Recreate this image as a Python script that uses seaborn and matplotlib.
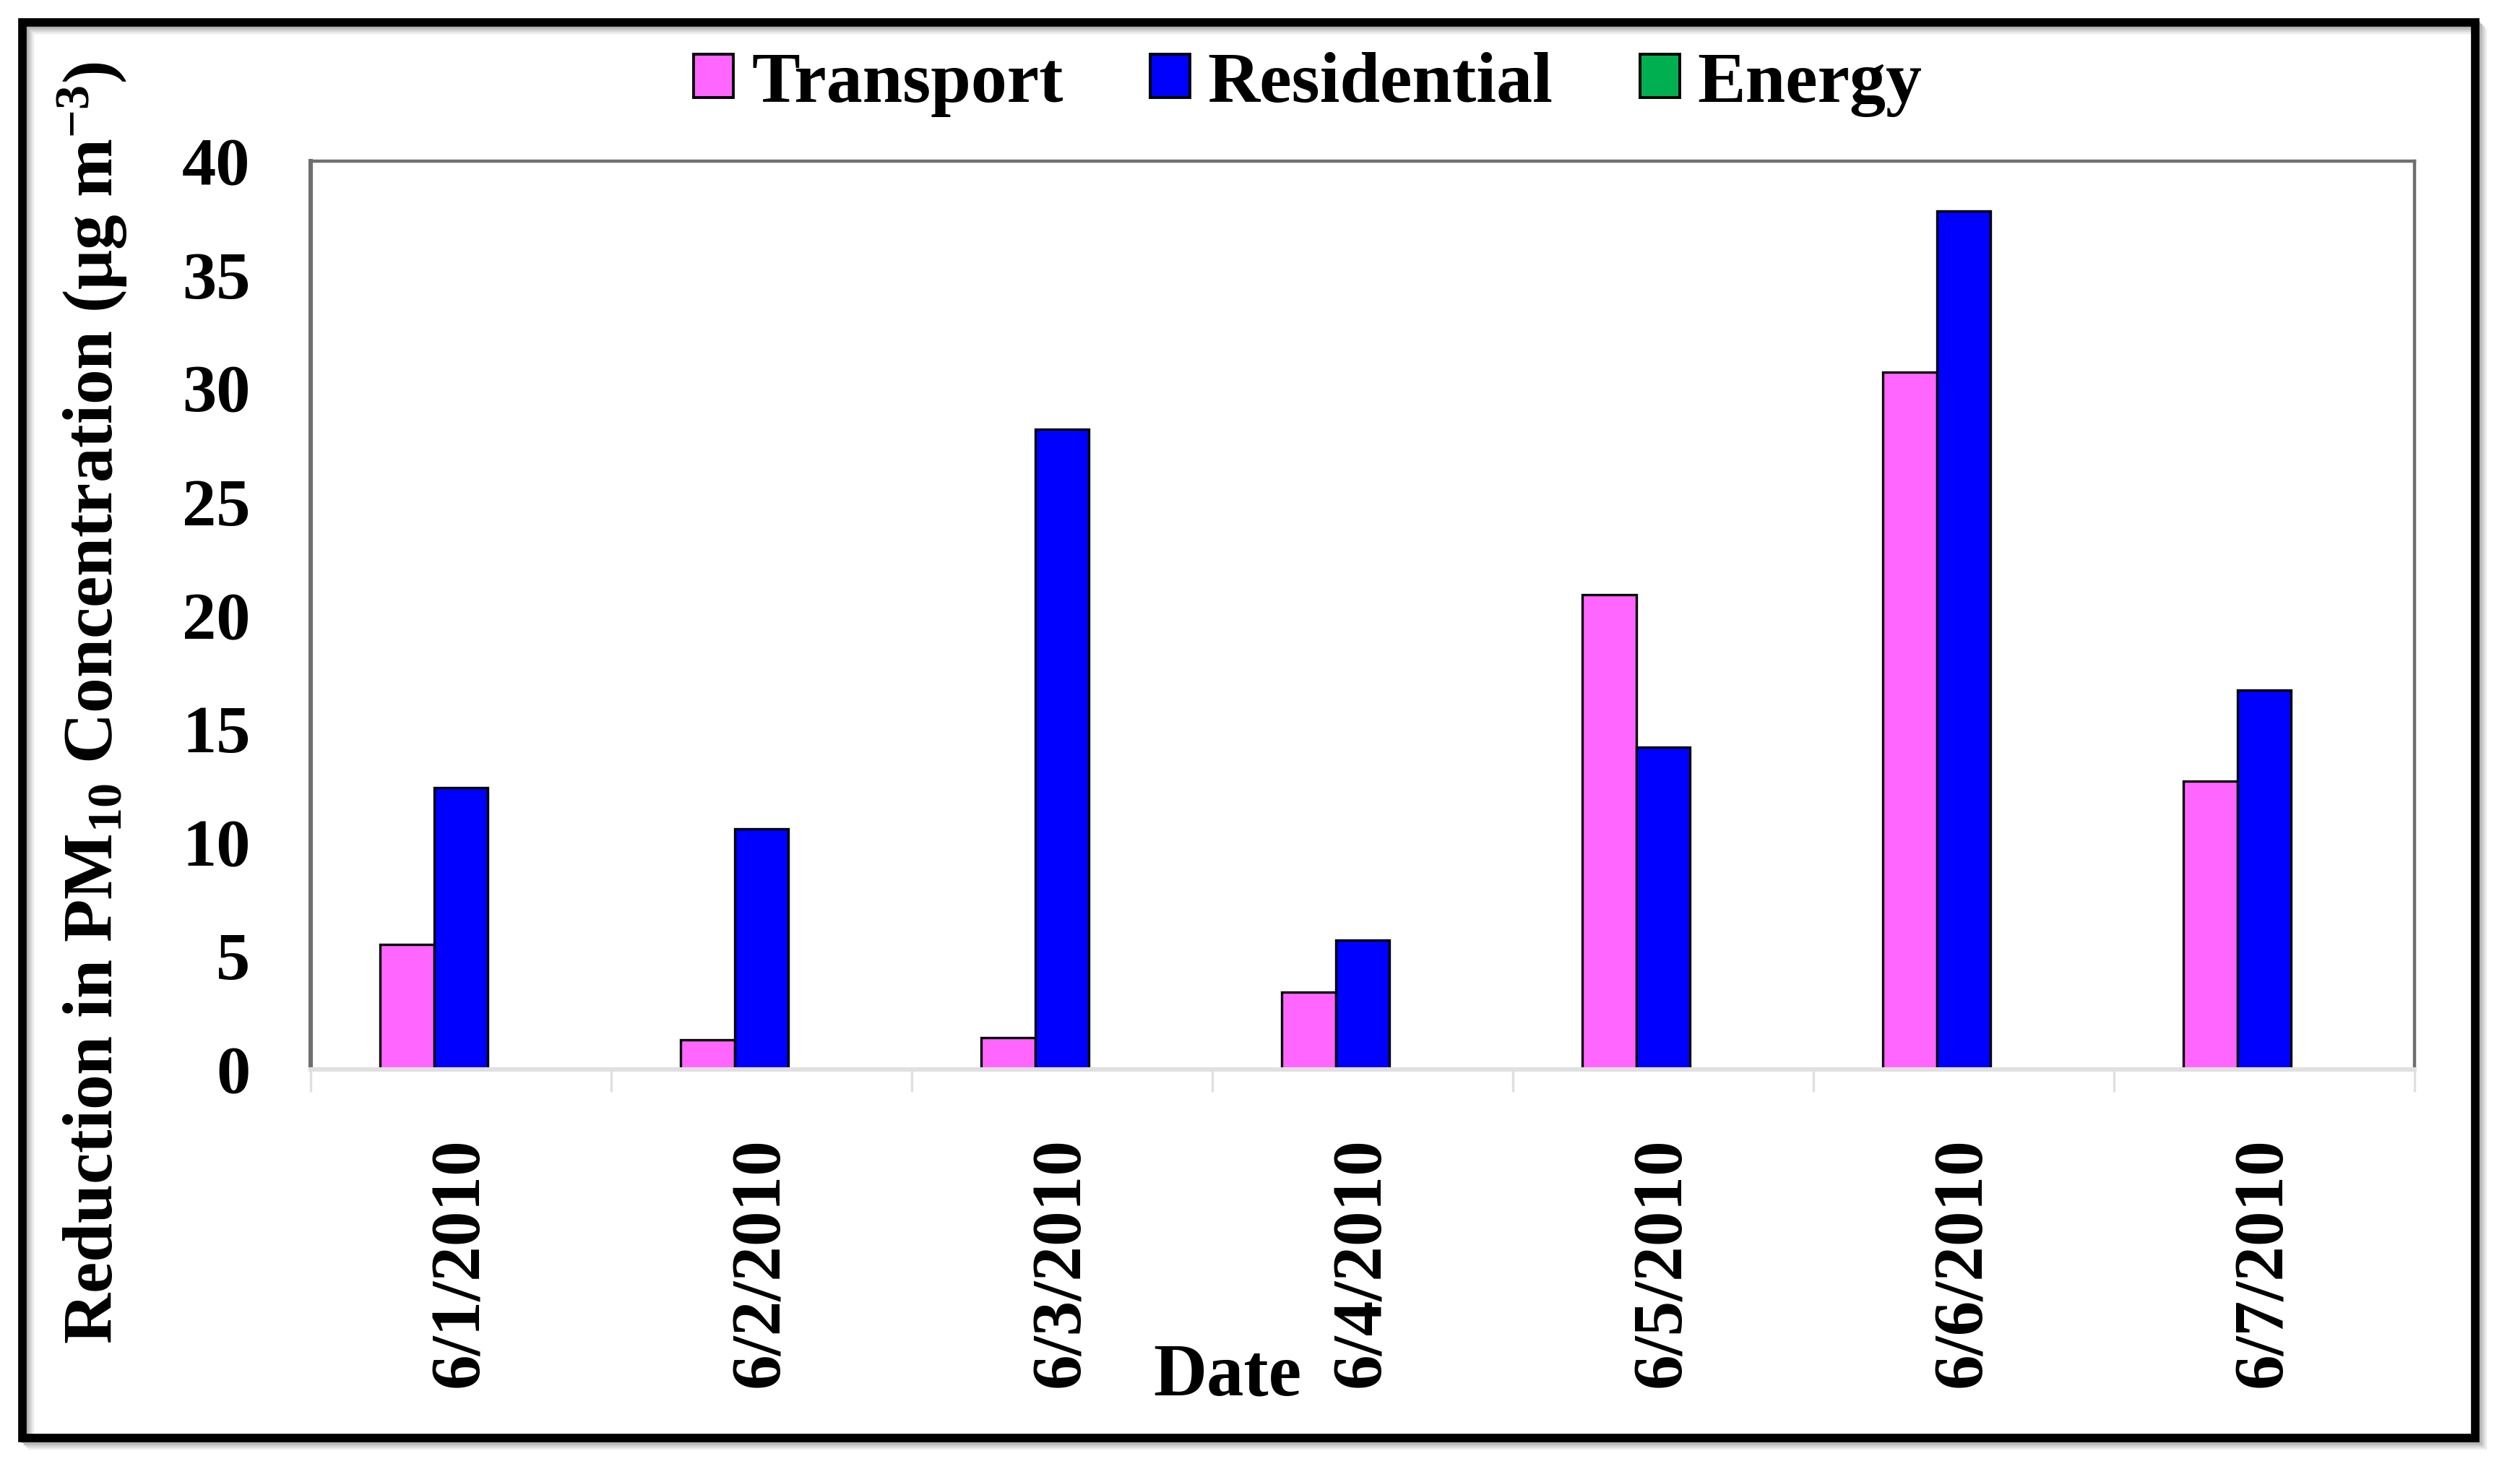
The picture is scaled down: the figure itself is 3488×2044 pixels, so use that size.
import matplotlib
matplotlib.use("Agg")
import matplotlib.pyplot as plt
import seaborn as sns
import pandas as pd
import numpy as np
from matplotlib.patches import Rectangle

dates = ["6/1/2010", "6/2/2010", "6/3/2010", "6/4/2010", "6/5/2010", "6/6/2010", "6/7/2010"]
transport = [5.5, 1.3, 1.4, 3.4, 20.9, 30.7, 12.7]
residential = [12.4, 10.6, 28.2, 5.7, 14.2, 37.8, 16.7]
energy = [0, 0, 0, 0, 0, 0, 0]
sectors = ["Transport", "Residential", "Energy"]
colors = ["#FF66FF", "#0000FF", "#00B050"]
yticks = [0, 5, 10, 15, 20, 25, 30, 35, 40]

rows = []
for s, vals in zip(sectors, [transport, residential, energy]):
    for d, v in zip(dates, vals):
        rows.append({"Date": d, "Sector": s, "Value": v})
df = pd.DataFrame(rows)

sns.set_theme(style="white")
plt.rcParams['font.family'] = ['Liberation Serif', 'DejaVu Serif']
plt.rcParams['text.color'] = 'black'
plt.rcParams['xtick.color'] = 'black'
plt.rcParams['ytick.color'] = 'black'
plt.rcParams['xtick.labelcolor'] = 'black'
plt.rcParams['ytick.labelcolor'] = 'black'
plt.rcParams['mathtext.fontset'] = 'custom'
plt.rcParams['mathtext.rm'] = 'Liberation Serif:bold'
plt.rcParams['mathtext.bf'] = 'Liberation Serif:bold'
plt.rcParams['mathtext.it'] = 'Liberation Serif:bold'

fig = plt.figure(figsize=(17.44, 10.22), dpi=200)
fig.patch.set_facecolor("white")
L, R, B, T = 430 / 3488, 3342 / 3488, 1 - 1480 / 2044, 1 - 223 / 2044
ax = fig.add_axes([L, B, R - L, T - B])

sns.barplot(data=df, x="Date", y="Value", hue="Sector", hue_order=sectors,
            order=dates, palette=colors, width=0.54, edgecolor="black",
            linewidth=1.2, saturation=1, ax=ax, legend=True)

for p in ax.containers[2]:
    p.set_edgecolor("none")

ax.set_ylim(0, 40)
ax.set_xlim(-0.5, len(dates) - 0.5)
ax.set_yticks(yticks)
ax.set_yticklabels([str(t) for t in yticks], fontsize=34, fontweight="bold", color="black")
ax.tick_params(axis="y", length=0, pad=30)
ax.set_xticks(range(len(dates)))
ax.set_xticklabels(dates, rotation=90, fontsize=35, fontweight="bold", color="black")
ax.tick_params(axis="x", which="major", length=0, pad=34)
ax.set_xticks(np.arange(-0.5, len(dates), 1.0), minor=True)
ax.tick_params(axis="x", which="minor", length=11, width=1.2, color="#e0e0e0", bottom=True)
ax.set_xlabel("")
ax.set_ylabel("")

for side in ["top", "right"]:
    ax.spines[side].set_color("#6f6f6f")
    ax.spines[side].set_linewidth(1.6)
ax.spines["left"].set_color("#6f6f6f")
ax.spines["left"].set_linewidth(2.2)
ax.spines["bottom"].set_color("#e0e0e0")
ax.spines["bottom"].set_linewidth(2.2)

handles, labels = ax.get_legend_handles_labels()
if ax.get_legend() is not None:
    ax.get_legend().remove()
for h in handles:
    h.set_edgecolor("black")
    h.set_linewidth(1.4)
fig.legend(handles, labels, loc="center", bbox_to_anchor=(0.519, 0.943),
           ncol=3, frameon=False, prop={"family": "Liberation Serif", "weight": "bold", "size": 36},
           handlelength=0.55, handleheight=0.55, handletextpad=0.25, columnspacing=1.2,
           labelcolor="black")

fig.text(0.487, 0.068, "Date", ha="center", va="center", fontsize=37, fontweight="bold", color="black")
fig.text(0.0365, 0.524, r"Reduction in PM$_{10}$ Concentration ($\mathrm{\mu}$g m$^{\mathregular{-3}}$)",
         rotation=90, ha="center", va="center", fontsize=35, fontweight="bold", color="black")

# outer frame with soft shadow
for i, g in enumerate(["#ececec", "#d6d6d6", "#bdbdbd", "#a6a6a6"]):
    off = (4 - i) * 3
    fig.patches.append(Rectangle(((31 + off) / 3488, 1 - (1990 + off) / 2044),
                                 (3426 - 31) / 3488, (1990 - 31) / 2044,
                                 transform=fig.transFigure, facecolor="none",
                                 edgecolor=g, linewidth=3.0, zorder=0))
fig.patches.append(Rectangle((31 / 3488, 1 - 1990 / 2044), (3426 - 31) / 3488, (1990 - 31) / 2044,
                             transform=fig.transFigure, facecolor="none",
                             edgecolor="black", linewidth=4.2, zorder=1))

fig.savefig("out.png", dpi=200, facecolor="white")
